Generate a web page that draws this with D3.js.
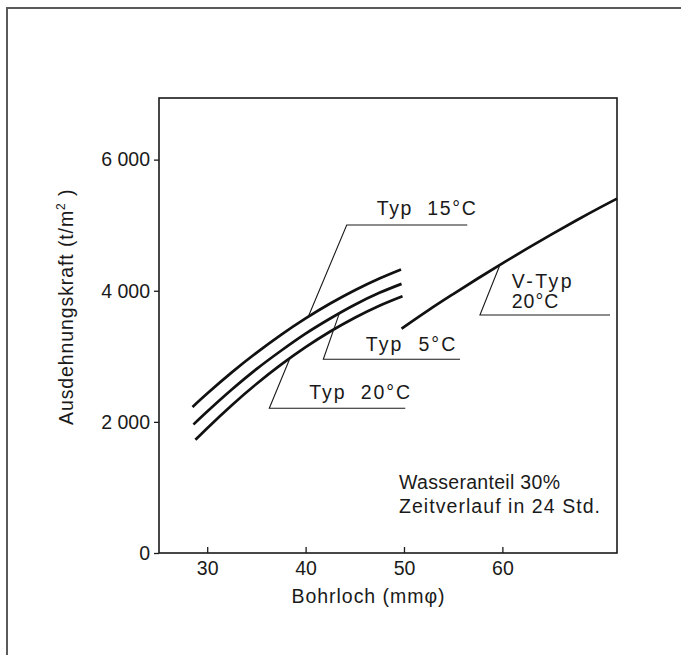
<!DOCTYPE html>
<html>
<head>
<meta charset="utf-8">
<script src="https://cdn.jsdelivr.net/npm/d3@7"></script>
<style>
  html, body { margin: 0; padding: 0; background: #ffffff; }
  svg { display: block; }
  text { font-family: "Liberation Sans", Arial, Helvetica, sans-serif; fill: #1a1a1a; }
</style>
</head>
<body>
<svg id="chart" width="681" height="655"></svg>
<script>
// ---------------- data ----------------
const xTicks = [30, 40, 50, 60];
const yTicks = [0, 2000, 4000, 6000];
const yTickLabels = ["0", "2 000", "4 000", "6 000"];

const typ15X = [28.5, 30, 32.5, 35, 37.5, 40, 42.5, 45, 47.5, 49.7];
const typ15Y = [2227, 2432, 2755, 3053, 3328, 3578, 3805, 4008, 4187, 4325];

const typ5X = [28.6, 30, 32.5, 35, 37.5, 40, 42.5, 45, 47.5, 49.75];
const typ5Y = [1960, 2157, 2493, 2804, 3085, 3346, 3577, 3787, 3968, 4105];

const typ20X = [28.8, 30, 32.5, 35, 37.5, 40, 42.5, 45, 47.5, 49.85];
const typ20Y = [1727, 1904, 2255, 2578, 2872, 3139, 3378, 3589, 3772, 3917];

const vtypX = [49.75, 52.5, 55, 57.5, 60, 62.5, 65, 67.5, 70, 71.65];
const vtypY = [3422, 3705, 3949, 4187, 4418, 4642, 4860, 5071, 5275, 5405];

const seriesNames = ["Typ  15°C", "Typ  5°C", "Typ  20°C", "V-Typ 20°C"];

// ---------------- layout ----------------
const FS = 19.5;
const svg = d3.select("#chart");
const plot = { left: 159, right: 617, top: 98, bottom: 553 };

const x = d3.scaleLinear().domain([25.1, 71.65]).range([plot.left, plot.right]);
const y = d3.scaleLinear().domain([0, 6940]).range([plot.bottom, plot.top]);

// outer page frame (top + left edge)
svg.append("path")
  .attr("d", "M7,655 L7,8 L681,8")
  .attr("fill", "none").attr("stroke", "#5a5a5a").attr("stroke-width", 2);

// plot frame
svg.append("rect")
  .attr("x", plot.left).attr("y", plot.top)
  .attr("width", plot.right - plot.left).attr("height", plot.bottom - plot.top)
  .attr("fill", "none").attr("stroke", "#1a1a1a").attr("stroke-width", 1.6);

// axes
const yAxis = d3.axisLeft(y).tickValues(yTicks).tickSize(5).tickPadding(4)
  .tickFormat((d, i) => yTickLabels[i]);
const gy = svg.append("g").attr("transform", `translate(${plot.left},0)`).call(yAxis);
gy.select(".domain").remove();
gy.selectAll(".tick line").attr("stroke", "#1a1a1a").attr("stroke-width", 1.3);
gy.selectAll(".tick text").attr("font-size", FS).attr("fill", "#1a1a1a")
  .attr("font-family", "Liberation Sans, Arial, sans-serif");

const xAxis = d3.axisBottom(x).tickValues(xTicks).tickSizeInner(-6).tickSizeOuter(0).tickPadding(8)
  .tickFormat(d3.format("d"));
const gx = svg.append("g").attr("transform", `translate(0,${plot.bottom})`).call(xAxis);
gx.select(".domain").remove();
gx.selectAll(".tick line").attr("stroke", "#1a1a1a").attr("stroke-width", 1.3);
gx.selectAll(".tick text").attr("font-size", FS).attr("fill", "#1a1a1a")
  .attr("font-family", "Liberation Sans, Arial, sans-serif");

// axis titles
svg.append("text")
  .attr("x", 368).attr("y", 603)
  .attr("text-anchor", "middle").attr("font-size", FS)
  .attr("textLength", 153).attr("lengthAdjust", "spacing")
  .text("Bohrloch (mmφ)");

const yl = svg.append("text")
  .attr("transform", "translate(73,425) rotate(-90)")
  .attr("x", 0).attr("y", 0)
  .attr("font-size", FS)
  .attr("letter-spacing", 0.9);
yl.append("tspan").text("Ausdehnungskraft (t/m");
yl.append("tspan").attr("font-size", 12).attr("dy", -8).text("2");
yl.append("tspan").attr("dy", 8).text(" )");

// curves
const line = d3.line().x(d => x(d[0])).y(d => y(d[1])).curve(d3.curveMonotoneX);
const seriesData = [
  d3.zip(typ15X, typ15Y),
  d3.zip(typ5X, typ5Y),
  d3.zip(typ20X, typ20Y),
  d3.zip(vtypX, vtypY)
];
svg.append("g").selectAll("path").data(seriesData).join("path")
  .attr("d", line)
  .attr("fill", "none").attr("stroke", "#111").attr("stroke-width", 2.7)
  .attr("stroke-linecap", "butt");

// curve value lookup for leader anchors
function curveY(xs, ys, xv) {
  return d3.scaleLinear().domain(xs).range(ys)(xv);
}

// annotations: anchor x on curve, elbow, end of baseline rule, label
const annotations = [
  { s: 0, ax: 40.27, ex: 44.18, ey: 5003, endX: 56.43, lines: ["Typ  15°C"], tx: 47.23, ty: [5155], tl: [99] },
  { s: 1, ax: 43.43, ex: 41.80, ey: 2955, endX: 55.69, lines: ["Typ  5°C"], tx: 46.11, ty: [3086], tl: [89.6] },
  { s: 2, ax: 38.41, ex: 36.31, ey: 2207, endX: 50.13, lines: ["Typ  20°C"], tx: 40.38, ty: [2344], tl: [100.7] },
  { s: 3, ax: 59.76, ex: 57.72, ey: 3630, endX: 70.94, lines: ["V-Typ", "20°C"], tx: 60.95, ty: [4037, 3732], tl: [60, 46.6] }
];
const srcX = [typ15X, typ5X, typ20X, vtypX];
const srcY = [typ15Y, typ5Y, typ20Y, vtypY];

const ag = svg.append("g");
annotations.forEach(a => {
  const ay = curveY(srcX[a.s], srcY[a.s], a.ax);
  ag.append("path")
    .attr("d", `M${x(a.ax)},${y(ay)} L${x(a.ex)},${y(a.ey)} L${x(a.endX)},${y(a.ey)}`)
    .attr("fill", "none").attr("stroke", "#1a1a1a").attr("stroke-width", 1.1);
  a.lines.forEach((t, i) => {
    ag.append("text")
      .attr("x", x(a.tx)).attr("y", y(a.ty[i]))
      .attr("font-size", FS)
      .attr("xml:space", "preserve")
      .style("white-space", "pre")
      .attr("textLength", a.tl[i]).attr("lengthAdjust", "spacing")
      .text(t);
  });
});

// note
svg.append("text").attr("x", 399).attr("y", 489).attr("font-size", FS)
  .attr("textLength", 161).attr("lengthAdjust", "spacing")
  .text("Wasseranteil 30%");
svg.append("text").attr("x", 399).attr("y", 513).attr("font-size", FS)
  .attr("textLength", 201).attr("lengthAdjust", "spacing")
  .text("Zeitverlauf in 24 Std.");
</script>
</body>
</html>
